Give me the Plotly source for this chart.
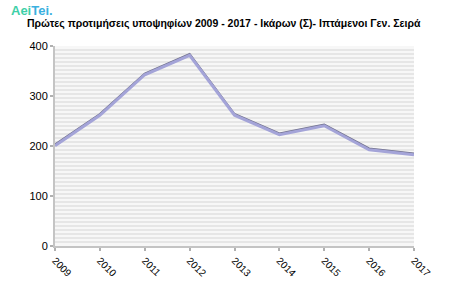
import plotly.graph_objects as go

years = [2009, 2010, 2011, 2012, 2013, 2014, 2015, 2016, 2017]
values = [203, 264, 345, 384, 264, 225, 243, 195, 185]
y_ticks = [0, 100, 200, 300, 400]
title = "Πρώτες προτιμήσεις υποψηφίων 2009 - 2017 - Ικάρων (Σ)- Ιπτάμενοι Γεν. Σειρά"

fig = go.Figure()
# shadow line on an overlay axis shifted by about a pixel
fig.add_trace(go.Scatter(x=years, y=values, mode="lines", yaxis="y2",
                         line=dict(color="#a4a4d8", width=3), hoverinfo="skip"))
fig.add_trace(go.Scatter(x=years, y=values, mode="lines",
                         line=dict(color="#72728e", width=2)))

fig.update_layout(
    width=450, height=300,
    margin=dict(l=55, r=36, t=46, b=54),
    paper_bgcolor="white", plot_bgcolor="#f7f7f7",
    showlegend=False,
    font=dict(family="Liberation Sans, Arial", size=10, color="black"),
    xaxis=dict(range=[2009, 2017], tickmode="array", tickvals=years,
               ticktext=[str(y) for y in years], tickangle=45,
               showgrid=False, zeroline=False, showline=True,
               linecolor="#c4c4c4", linewidth=2, ticks="outside",
               ticklen=3, tickcolor="#b0b0b0", tickwidth=2,
               tickfont=dict(size=10)),
    yaxis=dict(range=[0, 400], tickmode="array", tickvals=y_ticks,
               showgrid=False, zeroline=False, showline=True,
               linecolor="#c4c4c4", linewidth=2, ticks="outside",
               ticklen=3, tickcolor="#b0b0b0", tickwidth=2,
               tickfont=dict(size=11),
               minor=dict(showgrid=True, dtick=8, gridcolor="#e6e6e6", gridwidth=2, tick0=0)),
    yaxis2=dict(range=[2.5, 402.5], overlaying="y", visible=False),
)
fig.add_annotation(x=(9 - 55) / 359, y=1 + (46 - 10) / 200, xref="paper", yref="paper",
                   xanchor="left", yanchor="middle", showarrow=False,
                   text="<b><span style='color:#3fd0a8'>Aei</span><span style='color:#3ab0e0'>Tei.</span></b>",
                   font=dict(size=13, family="Liberation Sans, Arial"))
fig.add_annotation(x=(25 - 55) / 359, y=1 + (46 - 24) / 200, xref="paper", yref="paper",
                   xanchor="left", yanchor="middle", showarrow=False,
                   text="<b>" + title + "</b>", font=dict(size=10.5, family="Liberation Sans, Arial"))

fig.write_html("out.html")
